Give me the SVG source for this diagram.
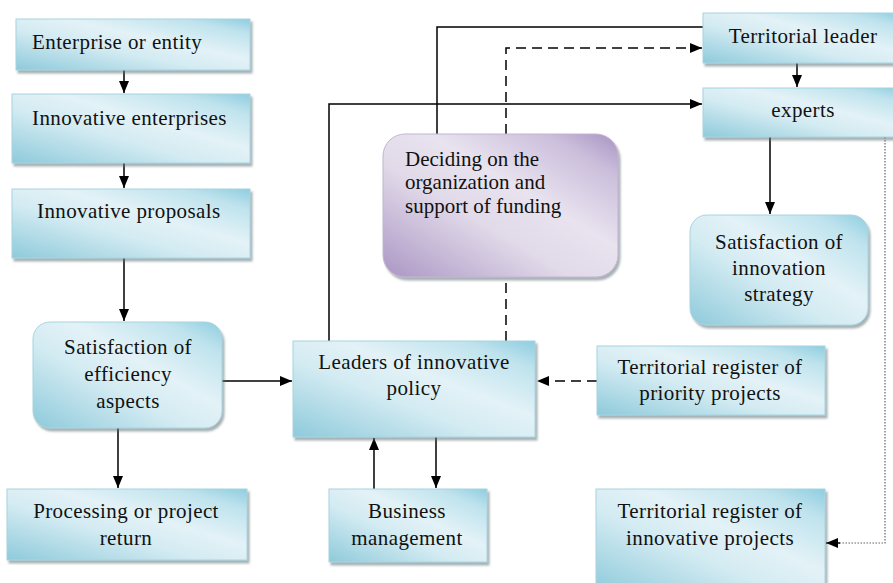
<svg xmlns="http://www.w3.org/2000/svg" width="893" height="583" viewBox="0 0 893 583">
  <defs>
    <linearGradient id="blueFill" x1="0" y1="1" x2="1" y2="0">
      <stop offset="0" stop-color="#8ecadb"/>
      <stop offset="0.4" stop-color="#d3ebf2"/>
      <stop offset="0.6" stop-color="#e3f2f7"/>
      <stop offset="0.85" stop-color="#bfe3ed"/>
      <stop offset="1" stop-color="#8fcde0"/>
    </linearGradient>
    <linearGradient id="purpleFill" x1="0" y1="1" x2="1" y2="0">
      <stop offset="0" stop-color="#ab96c4"/>
      <stop offset="0.4" stop-color="#e1dae9"/>
      <stop offset="0.6" stop-color="#e8e3ef"/>
      <stop offset="0.85" stop-color="#cbbedb"/>
      <stop offset="1" stop-color="#a993c3"/>
    </linearGradient>
    <filter id="shadow" x="-5%" y="-5%" width="115%" height="120%">
      <feDropShadow dx="2" dy="3" stdDeviation="1.2" flood-color="#5f6f75" flood-opacity="0.55"/>
    </filter>
    <marker id="arrow" viewBox="0 0 12 10" refX="12" refY="5" markerWidth="12" markerHeight="10" markerUnits="userSpaceOnUse" orient="auto">
      <path d="M0,0 L12,5 L0,10 Z" fill="#000"/>
    </marker>
  </defs>
  <style>
    .box { fill: url(#blueFill); stroke: #a6d4e0; stroke-width: 1; filter: url(#shadow); }
    .pbox { fill: url(#purpleFill); stroke: #c2b4d3; stroke-width: 1; filter: url(#shadow); }
    .label { font-family: "Liberation Serif", "DejaVu Serif", serif; font-size: 21px; fill: #111; letter-spacing: 0.4px; }
    .mid { text-anchor: middle; }
    .tight { letter-spacing: 0; }
    .link { fill: none; stroke: #000; stroke-width: 1.5; }
    .dash { stroke-dasharray: 10 6; }
    .dot { stroke: #666; stroke-width: 1.2; stroke-dasharray: 1.5 1.5; }
  </style>

  <rect width="893" height="583" fill="#fff"/>

  <!-- connectors -->
  <g id="connectors">
    <line class="link" x1="124" y1="70" x2="124" y2="93" marker-end="url(#arrow)"/>
    <line class="link" x1="124" y1="163" x2="124" y2="188" marker-end="url(#arrow)"/>
    <line class="link" x1="124" y1="258" x2="124" y2="321" marker-end="url(#arrow)"/>
    <line class="link" x1="208" y1="381" x2="292" y2="381" marker-end="url(#arrow)"/>
    <line class="link" x1="118" y1="428" x2="118" y2="488" marker-end="url(#arrow)"/>
    <line class="link" x1="374" y1="489" x2="374" y2="438" marker-end="url(#arrow)"/>
    <line class="link" x1="436" y1="437" x2="436" y2="488" marker-end="url(#arrow)"/>
    <line class="link dash" x1="597" y1="381" x2="537" y2="381" marker-end="url(#arrow)"/>
    <polyline class="link" points="329,341 329,104 702,104" marker-end="url(#arrow)"/>
    <polyline class="link" points="437,134 437,27 703,27"/>
    <line class="link dash" x1="506" y1="341" x2="506" y2="277"/>
    <polyline class="link dash" points="506,134 506,48 702,48" marker-end="url(#arrow)"/>
    <line class="link" x1="797" y1="63" x2="797" y2="87" marker-end="url(#arrow)"/>
    <line class="link" x1="770" y1="137" x2="770" y2="214" marker-end="url(#arrow)"/>
    <polyline class="link dot" points="885,137 885,543 838,543"/>
    <line class="link" x1="840" y1="543" x2="826" y2="543" stroke-width="1.2" marker-end="url(#arrow)"/>
  </g>

  <!-- nodes -->
  <g id="enterprise">
    <rect class="box" x="16" y="19" width="234" height="51"/>
    <text class="label" x="32" y="49">Enterprise or entity</text>
  </g>
  <g id="innovative-enterprises">
    <rect class="box" x="12" y="94" width="238" height="69"/>
    <text class="label" x="32" y="125">Innovative enterprises</text>
  </g>
  <g id="innovative-proposals">
    <rect class="box" x="12" y="189" width="238" height="69"/>
    <text class="label" x="37" y="218">Innovative proposals</text>
  </g>
  <g id="efficiency">
    <rect class="box" x="33" y="322" width="189" height="106" rx="17"/>
    <text class="label mid" x="128" y="354">Satisfaction of</text>
    <text class="label mid" x="128" y="381">efficiency</text>
    <text class="label mid" x="128" y="408">aspects</text>
  </g>
  <g id="processing">
    <rect class="box" x="7" y="489" width="240" height="71"/>
    <text class="label mid" x="126" y="518">Processing or project</text>
    <text class="label mid" x="126" y="545">return</text>
  </g>
  <g id="leaders">
    <rect class="box" x="293" y="341" width="242" height="96"/>
    <text class="label mid" x="414" y="369">Leaders of innovative</text>
    <text class="label mid" x="414" y="395">policy</text>
  </g>
  <g id="business">
    <rect class="box" x="329" y="489" width="158" height="73"/>
    <text class="label mid" x="407" y="518">Business</text>
    <text class="label mid" x="407" y="545">management</text>
  </g>
  <g id="register-priority">
    <rect class="box" x="597" y="346" width="228" height="69"/>
    <text class="label mid" x="710" y="374">Territorial register of</text>
    <text class="label mid" x="710" y="400">priority projects</text>
  </g>
  <g id="register-innovative">
    <rect class="box" x="596" y="489" width="229" height="104"/>
    <text class="label mid" x="710" y="518">Territorial register of</text>
    <text class="label mid" x="710" y="545">innovative projects</text>
  </g>
  <g id="deciding">
    <rect class="pbox" x="383" y="134" width="235" height="143" rx="22"/>
    <text class="label tight" x="405" y="166">Deciding on the</text>
    <text class="label tight" x="405" y="189">organization and</text>
    <text class="label tight" x="405" y="213">support of funding</text>
  </g>
  <g id="territorial-leader">
    <rect class="box" x="703" y="13" width="200" height="50"/>
    <text class="label mid" x="803" y="43">Territorial leader</text>
  </g>
  <g id="experts">
    <rect class="box" x="703" y="88" width="200" height="49"/>
    <text class="label mid" x="803" y="117">experts</text>
  </g>
  <g id="innovation-strategy">
    <rect class="box" x="690" y="215" width="178" height="110" rx="17"/>
    <text class="label mid" x="779" y="249">Satisfaction of</text>
    <text class="label mid" x="779" y="275">innovation</text>
    <text class="label mid" x="779" y="301">strategy</text>
  </g>
</svg>
